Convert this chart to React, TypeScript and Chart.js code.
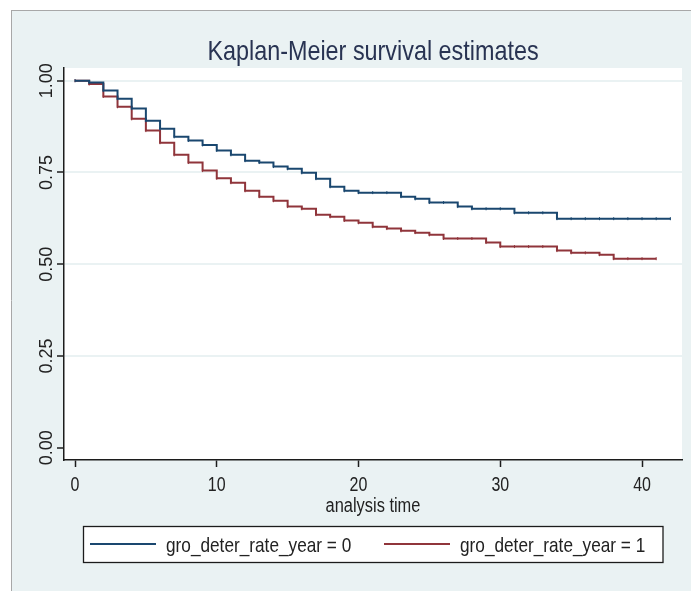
import React, { useEffect, useRef } from "react";
import { Chart, registerables } from "chart.js";

Chart.register(...registerables);

const titleText = "Kaplan-Meier survival estimates";
const xTitleText = "analysis time";
const seriesLabels = ["gro_deter_rate_year = 0", "gro_deter_rate_year = 1"];

const times0 = [0, 1, 2, 3, 4, 5, 6, 7, 8, 9, 10, 11, 12, 13, 14, 15, 16, 17, 18, 19, 20, 21, 22, 23, 24, 25, 26, 27, 28, 29, 30, 31, 32, 33, 34, 35, 36, 37, 38, 39, 40, 41, 42];
const surv0 = [1.0, 0.995, 0.973, 0.951, 0.924, 0.891, 0.869, 0.847, 0.837, 0.825, 0.81, 0.798, 0.782, 0.777, 0.766, 0.76, 0.749, 0.733, 0.711, 0.7, 0.695, 0.695, 0.695, 0.684, 0.678, 0.668, 0.668, 0.657, 0.651, 0.651, 0.651, 0.64, 0.64, 0.64, 0.624, 0.624, 0.624, 0.624, 0.624, 0.624, 0.624, 0.624, 0.624];

const times1 = [0, 1, 2, 3, 4, 5, 6, 7, 8, 9, 10, 11, 12, 13, 14, 15, 16, 17, 18, 19, 20, 21, 22, 23, 24, 25, 26, 27, 28, 29, 30, 31, 32, 33, 34, 35, 36, 37, 38, 39, 40, 41];
const surv1 = [1.0, 0.991, 0.957, 0.929, 0.896, 0.864, 0.831, 0.798, 0.777, 0.755, 0.734, 0.722, 0.7, 0.684, 0.673, 0.657, 0.651, 0.635, 0.629, 0.619, 0.613, 0.602, 0.597, 0.591, 0.586, 0.58, 0.57, 0.57, 0.57, 0.559, 0.548, 0.548, 0.548, 0.548, 0.537, 0.531, 0.531, 0.526, 0.515, 0.515, 0.515, 0.515];

const xTicks = [0, 10, 20, 30, 40];
const yTicks = [0, 0.25, 0.5, 0.75, 1.0];

const FONT = "'Liberation Sans', Arial, sans-serif";
const NARROW = 0.82;
const BLUE = "#1a476f";
const RED = "#90353b";
const BG = "#eaf2f3";
const GRID = "#eaf2f3";
const AXIS = "#1c1c1c";
const TEXT = "#222222";
const TITLE = "#283352";

const W = 691;
const H = 591;

function narrowText(ctx: any, text: string, x: number, y: number, size: number, align: string, color: string, rot = 0, sx = NARROW) {
  ctx.save();
  ctx.translate(x, y);
  if (rot) ctx.rotate(rot);
  ctx.scale(sx, 1);
  ctx.font = `${size}px ${FONT}`;
  ctx.fillStyle = color;
  ctx.textAlign = align;
  ctx.textBaseline = "alphabetic";
  ctx.fillText(text, 0, 0);
  ctx.restore();
}

const bgPlugin = {
  id: "bgPlugin",
  beforeDraw(chart: any) {
    const { ctx, chartArea } = chart;
    ctx.save();
    ctx.fillStyle = "#ffffff";
    ctx.fillRect(0, 0, W, H);
    ctx.fillStyle = BG;
    ctx.fillRect(12, 11, W - 12, H - 11);
    ctx.strokeStyle = "#a8a8a8";
    ctx.lineWidth = 1;
    ctx.beginPath();
    ctx.moveTo(11.5, 10);
    ctx.lineTo(11.5, H);
    ctx.moveTo(11, 10.5);
    ctx.lineTo(W, 10.5);
    ctx.stroke();
    ctx.fillStyle = "#ffffff";
    ctx.fillRect(chartArea.left, chartArea.top, chartArea.right - chartArea.left, chartArea.bottom - chartArea.top);
    ctx.restore();
  },
};

const textPlugin = {
  id: "textPlugin",
  afterDraw(chart: any) {
    const { ctx, chartArea } = chart;
    const xs = chart.scales.x;
    const ys = chart.scales.y;
    const cx = (chartArea.left + chartArea.right) / 2;
    // title
    narrowText(ctx, titleText, cx, 60, 28.5, "center", TITLE);
    // y tick labels (rotated, reading upward)
    yTicks.forEach((v) => {
      const py = ys.getPixelForValue(v);
      narrowText(ctx, v.toFixed(2), 52, py, 18, "center", TEXT, -Math.PI / 2, 1);
    });
    // x tick labels
    xTicks.forEach((v) => {
      const px = xs.getPixelForValue(v);
      narrowText(ctx, String(v), px, 491, 19.5, "center", TEXT);
    });
    // x axis title
    narrowText(ctx, xTitleText, cx, 512, 20, "center", TEXT);
    // legend
    const ds = chart.data.datasets;
    ctx.save();
    ctx.fillStyle = "#ffffff";
    ctx.fillRect(83.5, 526.5, 579.5, 36);
    ctx.strokeStyle = AXIS;
    ctx.lineWidth = 1.3;
    ctx.strokeRect(83.5, 526.5, 579.5, 36);
    ctx.restore();
    const items = [
      { x0: 90, x1: 156, tx: 166 },
      { x0: 384, x1: 450, tx: 460 },
    ];
    items.forEach((it, i) => {
      ctx.save();
      ctx.strokeStyle = ds[i].borderColor;
      ctx.lineWidth = 2;
      ctx.beginPath();
      ctx.moveTo(it.x0, 544);
      ctx.lineTo(it.x1, 544);
      ctx.stroke();
      ctx.restore();
      narrowText(ctx, ds[i].label, it.tx, 551.5, 21, "left", TEXT);
    });
  },
};

export default function App() {
  const ref = useRef<HTMLCanvasElement | null>(null);

  useEffect(() => {
    if (!ref.current) return;
    const mk = (label: string, color: string, t: number[], s: number[]) => ({
      label,
      data: t.map((x, i) => ({ x, y: s[i] })),
      borderColor: color,
      backgroundColor: color,
      borderWidth: 2,
      stepped: true,
      fill: false,
      pointStyle: "line",
      pointRotation: 90,
      pointRadius: 1.5,
      pointBorderColor: color,
      pointBorderWidth: 1,
      pointHoverRadius: 0,
    });
    const chart = new Chart(ref.current, {
      type: "line",
      data: {
        datasets: [
          mk(seriesLabels[0], BLUE, times0, surv0),
          mk(seriesLabels[1], RED, times1, surv1),
        ],
      },
      options: {
        animation: false,
        responsive: false,
        devicePixelRatio: 1,
        events: [],
        layout: { padding: { left: 0, right: 9, top: 68, bottom: 0 } },
        plugins: {
          legend: { display: false },
          tooltip: { enabled: false },
          title: { display: false },
        },
        scales: {
          x: {
            type: "linear",
            min: -0.776,
            max: 42.82,
            afterBuildTicks: (s: any) => {
              s.ticks = xTicks.map((v) => ({ value: v }));
            },
            afterFit: (s: any) => {
              s.height = 131;
            },
            grid: { drawOnChartArea: false, drawTicks: true, tickLength: 7, tickColor: AXIS, tickWidth: 1.5 },
            border: { display: true, color: AXIS, width: 1.5 },
            ticks: { display: false },
          },
          y: {
            type: "linear",
            min: -0.0335,
            max: 1.0346,
            afterBuildTicks: (s: any) => {
              s.ticks = yTicks.map((v) => ({ value: v }));
            },
            afterFit: (s: any) => {
              s.width = 64;
            },
            grid: {
              color: (c: any) => (c.tick && c.tick.value === 0 ? "rgba(0,0,0,0)" : GRID),
              lineWidth: 2,
              drawTicks: true,
              tickLength: 7,
              tickColor: AXIS,
              tickWidth: 1.5,
            },
            border: { display: true, color: AXIS, width: 1.5 },
            ticks: { display: false },
          },
        },
      } as any,
      plugins: [bgPlugin, textPlugin],
    });
    return () => chart.destroy();
  }, []);

  return (
    <div style={{ position: "fixed", left: 0, top: 0, width: W, height: H }}>
      <canvas ref={ref} width={W} height={H} style={{ display: "block", width: W, height: H }} />
    </div>
  );
}
